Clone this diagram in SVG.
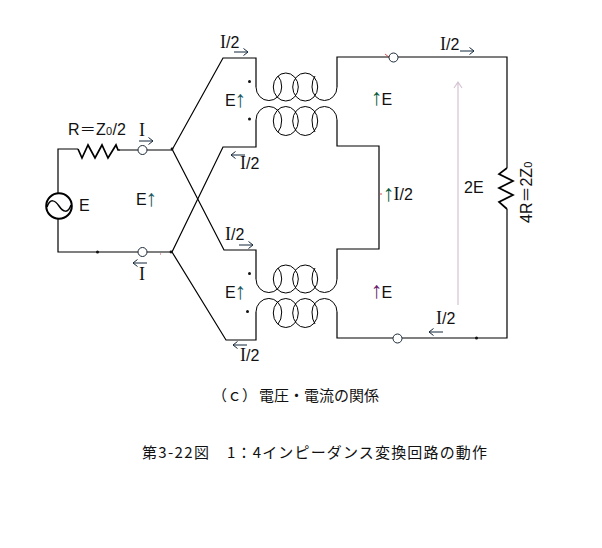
<svg xmlns="http://www.w3.org/2000/svg" xmlns:xlink="http://www.w3.org/1999/xlink" width="602" height="548" viewBox="0 0 602 548">
<style>
.w{fill:none;stroke:#000;stroke-width:1.2}
.z{fill:none;stroke:#000;stroke-width:1.7}
.c{fill:none;stroke:#000;stroke-width:1}
.t{fill:#fff;stroke:#1a2a3a;stroke-width:1}
.a{fill:none;stroke:#13263a;stroke-width:1}
.d{fill:#111}
text{font-family:"Liberation Sans","Noto Sans CJK JP",sans-serif;font-size:16px;fill:#111}
.s{font-family:"Liberation Serif",serif;font-size:18px}
.n{font-family:"Liberation Sans",sans-serif;font-size:16px}
.cap{font-family:"Noto Sans CJK JP",sans-serif;font-size:15px}
.up{font-family:"Liberation Sans",sans-serif;font-size:23px}
</style>
<defs>
<g id="coil">
<path class="c" d="M256 87A12.800 13.500 0 0 0 281.700 87Q281.700 80 278 76"/>
<ellipse class="c" cx="285.800" cy="87" rx="12.500" ry="14"/>
<ellipse class="c" cx="305.200" cy="87" rx="12.500" ry="14"/>
<path class="c" d="M337 87A12.500 13.500 0 0 1 312 87Q312 80 315 76"/>
<path class="c" d="M256 120A12.800 13.500 0 0 1 281.700 120Q281.700 128 278 132"/>
<ellipse class="c" cx="285.800" cy="121" rx="12.500" ry="14.500"/>
<ellipse class="c" cx="305.200" cy="121" rx="12.500" ry="14.500"/>
<path class="c" d="M337 120A12.500 13.500 0 0 0 312 120Q312 128 315 132"/>
</g>
<path id="ar" class="a" d="M0 0H14M9.500 -3.500L14 0L9.500 3.500"/>
<path id="al" class="a" d="M14 0H0M4.500 -3.500L0 0L4.500 3.500"/>
</defs>
<g id="connectors">
<path class="w" d="M120 150H138M147 150H172L223 58H256V87M172 149L224 250H256V279"/>
<path class="w" d="M337 87V57H389M398 57H507V168M507 209V338H402M393 338H337V312"/>
<path class="w" d="M256 120V147H223L172 252M337 120V146H379V249H337V279M256 312V340H226L172 252"/>
<path class="w" d="M58 193V149H78M58 219V252H138M147 252H172"/>
<path d="M458 305V83M454 88L458 82L462 88" fill="none" stroke="#d6c4d2" stroke-width="1.200"/>
<path d="M385 54L390 58M380 194H382M160 254H161" fill="none" stroke="#d02020" stroke-width="0.800"/>
</g>
<g id="source"><circle cx="59" cy="206" r="12.800" fill="#fff" stroke="#000" stroke-width="2"/><path d="M47 207C50 198 55 200 59 206S68 214 71 205" fill="none" stroke="#000" stroke-width="1.500"/><text x="79" y="211" class="n">E</text></g>
<g id="resistor-r"><path class="z" d="M78 149L82 158L88 145L95 158L102 145L108 158L116 145L118 150H120"/><text x="68" y="135" textLength="58">R＝Z<tspan font-size="11">0</tspan>/2</text></g>
<g id="resistor-4r"><path class="z" d="M507 168L499 174L513 181L499 188L513 195L499 202L507 209"/><text transform="translate(532 223) rotate(-90)">4R＝2Z<tspan font-size="11">0</tspan></text></g>
<g id="terminals"><circle class="t" cx="142.500" cy="150" r="4.500"/><circle class="t" cx="142.500" cy="252" r="4.500"/><circle class="t" cx="393.500" cy="57.500" r="4.500"/><circle class="t" cx="397.500" cy="338.500" r="4.500"/></g>
<g id="dots">
<circle class="d" cx="172" cy="149" r="1.400"/><circle class="d" cx="171" cy="252" r="1.400"/><circle class="d" cx="97.500" cy="252" r="1.500"/><circle class="d" cx="476.500" cy="338" r="1.500"/>
<circle class="d" cx="249.500" cy="81.500" r="1.500"/><circle class="d" cx="249.500" cy="119" r="1.500"/><circle class="d" cx="249.500" cy="273.500" r="1.500"/><circle class="d" cx="247.500" cy="311.500" r="1.500"/>
</g>
<g id="transformer-top"><use xlink:href="#coil" href="#coil"/></g>
<g id="transformer-bottom"><use xlink:href="#coil" href="#coil" y="192"/></g>
<g id="current-arrows">
<use href="#ar" x="139" y="141"/><use href="#al" x="133" y="263"/>
<use href="#ar" x="234" y="52"/><use href="#al" x="231" y="155"/>
<use href="#ar" x="239" y="245"/><use href="#al" x="233" y="345"/>
<use href="#ar" x="460" y="51"/><use href="#al" x="429" y="332"/>
</g>
<g id="labels">
<text x="139" y="136" class="s">I</text><text x="139" y="280" class="s">I</text>
<text x="220" y="48" class="s">I<tspan class="n">/2</tspan></text>
<text x="240" y="169" class="s">I<tspan class="n">/2</tspan></text>
<text x="225" y="240" class="s">I<tspan class="n">/2</tspan></text>
<text x="240" y="361" class="s">I<tspan class="n">/2</tspan></text>
<text x="440" y="50" class="s">I<tspan class="n">/2</tspan></text>
<text x="436" y="324" class="s">I<tspan class="n">/2</tspan></text>
<text x="383" y="201" class="s"><tspan class="up" style="fill:#0a5a3a">↑</tspan><tspan dx="-1" dy="-1">I</tspan><tspan class="n">/2</tspan></text>
<text x="136" y="205" class="n">E<tspan class="up" dx="-1" dy="1" style="fill:#1a5a60">↑</tspan></text>
<text x="225" y="106" class="n">E<tspan class="up" dx="-1" dy="1" style="fill:#1a5a60">↑</tspan></text>
<text x="225" y="298" class="n">E<tspan class="up" dx="-1" dy="1" style="fill:#1a5a60">↑</tspan></text>
<text x="371" y="105" class="n"><tspan class="up" style="fill:#0a5a3a">↑</tspan><tspan dx="-1">E</tspan></text>
<text x="371" y="298" class="n"><tspan class="up" style="fill:#6a1a6a">↑</tspan><tspan dx="-1">E</tspan></text>
<text x="464" y="193" class="n">2E</text>
<text x="212" y="401" class="cap">（ｃ）</text>
<text x="259" y="401" class="cap">電圧・電流の関係</text>
<text x="142" y="458" class="cap" textLength="67">第3-22図</text>
<text x="227" y="458" class="cap" textLength="260">1：4インピーダンス変換回路の動作</text>
</g>
</svg>
